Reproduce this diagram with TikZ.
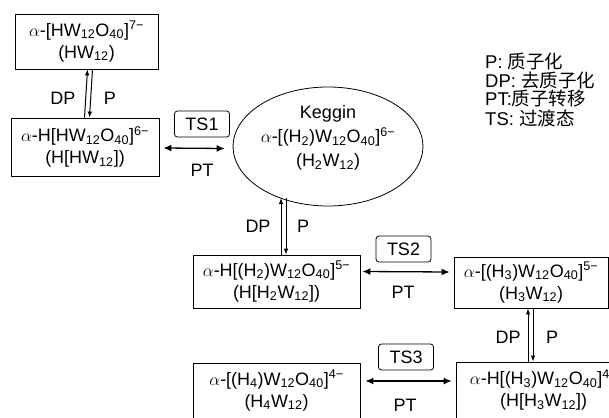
\documentclass[tikz,border=0pt]{standalone}
\usepackage{fontspec}
\setmainfont{Liberation Sans}
\newfontfamily\cjk{Noto Sans CJK SC}
\usetikzlibrary{arrows.meta,shapes.geometric,calc}
\newcommand{\sbs}[1]{\textsubscript{#1}}
\newcommand{\sps}[1]{\textsuperscript{#1}}
\begin{document}
\begin{tikzpicture}[x=1pt,y=-1pt,
  font=\fontsize{18}{22}\selectfont,
  box/.style={draw, line width=0.8pt, align=center, inner sep=0pt},
  tsbox/.style={draw, line width=0.8pt, rounded corners=3pt, minimum width=55pt, minimum height=26pt, inner sep=0pt},
  lbl/.style={inner sep=0pt},
  ptarrow/.style={{Latex[length=8pt,width=7pt]}-{Latex[length=8pt,width=7pt]}, line width=1.3pt},
  eqarrow/.style={-{Latex[length=6pt,width=4.5pt]}, line width=1pt},
  leg/.style={anchor=west, inner sep=0pt, font=\fontsize{18.5}{22}\selectfont}]
\useasboundingbox (0,0) rectangle (609,417);
\clip (0,0) rectangle (609,417);
\fill[white] (0,0) rectangle (609,417);
% boxes
\node[box, minimum width=143pt, minimum height=55pt] (b1) at (86.5,41.5)
  {$\alpha$-[HW\sbs{12}O\sbs{40}]\sps{7−}\\(HW\sbs{12})};
\node[box, minimum width=148pt, minimum height=58pt] (b2) at (85,147)
  {$\alpha$-H[HW\sbs{12}O\sbs{40}]\sps{6−}\\(H[HW\sbs{12}])};
\node[draw, ellipse, line width=0.8pt, minimum width=146pt, minimum height=119pt, inner sep=0pt, align=center, font=\fontsize{18}{24}\selectfont] (kg) at (328,146.5)
  {Keggin\\$\alpha$-[(H\sbs{2})W\sbs{12}O\sbs{40}]\sps{6−}\\(H\sbs{2}W\sbs{12})\\[-3pt]};
\node[box, minimum width=167pt, minimum height=53pt] (b3) at (276.5,281.5)
  {$\alpha$-H[(H\sbs{2})W\sbs{12}O\sbs{40}]\sps{5−}\\(H[H\sbs{2}W\sbs{12}])};
\node[box, minimum width=154pt, minimum height=51pt] (b4) at (531,282.5)
  {$\alpha$-[(H\sbs{3})W\sbs{12}O\sbs{40}]\sps{5−}\\(H\sbs{3}W\sbs{12})};
\node[box, minimum width=175pt, minimum height=56pt] (b5) at (543.5,390)
  {$\alpha$-H[(H\sbs{3})W\sbs{12}O\sbs{40}]\sps{4−}\\(H[H\sbs{3}W\sbs{12}])};
\node[box, minimum width=167pt, minimum height=55pt] (b6) at (276.5,390.5)
  {$\alpha$-[(H\sbs{4})W\sbs{12}O\sbs{40}]\sps{4−}\\(H\sbs{4}W\sbs{12})};
% TS boxes
\node[tsbox] (ts1) at (202,124) {TS1};
\node[tsbox] (ts2) at (403.5,249) {TS2};
\node[tsbox] (ts3) at (406,357) {TS3};
% PT arrows
\draw[ptarrow] ([xshift=4pt,yshift=-1pt]b2.east) -- ([xshift=-8pt,yshift=-2pt]kg.west);
\node[lbl] (pt1) at (202,170) {PT};
\draw[ptarrow] ([xshift=2pt,yshift=10pt]b3.east) -- ([xshift=-4pt,yshift=10.5pt]b4.west);
\node[lbl] (pt2) at (403,292) {PT};
\draw[ptarrow] ([xshift=5pt,yshift=9.5pt]b6.east) -- ([xshift=-4pt,yshift=9pt]b5.west);
\node[lbl] (pt3) at (405,405) {PT};
% equilibrium arrows
\draw[eqarrow] ([xshift=-0.5pt]b2.north) -- ([xshift=1pt]b1.south);
\draw[eqarrow] ([xshift=6pt]b1.south) -- ([xshift=4.5pt]b2.north);
\node[lbl] (dp1) at (63,98) {DP};
\node[lbl] (p1) at (110,98) {P};
\coordinate (k1) at (281,198);
\coordinate (k2) at (286,198);
\draw[eqarrow] (b3.north -| k1) -- (k1);
\draw[eqarrow] (k2) -- (b3.north -| k2);
\node[lbl] (dp2) at (258,226) {DP};
\node[lbl] (p2) at (303,226) {P};
\draw[eqarrow] ([xshift=-3pt]b5.north -| b4.south) -- ([xshift=-3pt]b4.south);
\draw[eqarrow] ([xshift=2pt]b4.south) -- ([xshift=2pt]b5.north -| b4.south);
\node[lbl] (dp3) at (508,337) {DP};
\node[lbl] (p3) at (552,337) {P};
% legend
\node[leg] (l1) at (485,61) {P: {\cjk 质子化}};
\node[leg] (l2) at (485,80) {DP: {\cjk 去质子化}};
\node[leg] (l3) at (485,99) {PT:{\cjk 质子转移}};
\node[leg] (l4) at (485,118) {TS: {\cjk 过渡态}};
\end{tikzpicture}
\end{document}
